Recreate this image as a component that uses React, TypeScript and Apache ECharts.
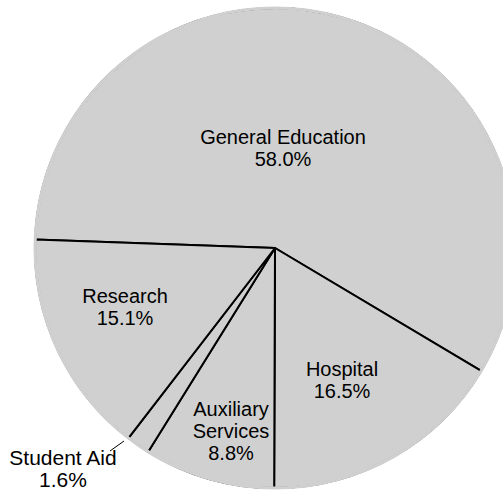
import React, { useEffect, useRef } from "react";
import * as echarts from "echarts";

const categories = ["General Education", "Hospital", "Auxiliary Services", "Student Aid", "Research"];
const displayNames = ["General Education", "Hospital", "Auxiliary\nServices", "Student Aid", "Research"];
const shares = [58.0, 16.5, 8.8, 1.6, 15.1];

// label centres (pixels) for each slice, in the same order
const labelPositions: number[][] = [
  [283, 148],
  [342, 380],
  [231, 431],
  [63, 468],
  [125, 307],
];
const studentAidLeader: number[][] = [
  [124, 441],
  [117, 446],
  [110, 451],
];

const CENTER = [275, 248];
const R = 240;
const FILL = "#d0d0d0";
const FONT = "'Liberation Sans', Arial, Helvetica, sans-serif";

export default function App() {
  const ref = useRef<HTMLDivElement>(null);
  useEffect(() => {
    if (!ref.current) return;
    const chart = echarts.init(ref.current, undefined, { renderer: "svg" });
    chart.setOption({
      animation: false,
      backgroundColor: "#ffffff",
      series: [
        {
          type: "pie",
          center: CENTER,
          radius: [0, R],
          startAngle: 178,
          clockwise: true,
          avoidLabelOverlap: false,
          silent: true,
          itemStyle: { color: FILL, borderColor: "#000", borderWidth: 2 },
          label: {
            show: true,
            position: "inside",
            color: "#000",
            fontFamily: FONT,
            fontSize: 20,
            lineHeight: 22,
            align: "center",
            formatter: (p: any) => `${displayNames[p.dataIndex]}\n${Number(p.value).toFixed(1)}%`,
          },
          labelLine: { show: false },
          labelLayout: (params: any) => {
            const pos = labelPositions[params.dataIndex];
            const out: any = { x: pos[0], y: pos[1], align: "center", verticalAlign: "middle" };
            if (params.dataIndex === 3) out.labelLinePoints = studentAidLeader;
            return out;
          },
          data: categories.map((name, i) => {
            const d: any = { name, value: shares[i] };
            if (i === 3) {
              d.label = { position: "outside", fontSize: 21 };
              d.labelLine = { show: true, length: 6, length2: 6, lineStyle: { color: "#000", width: 1 } };
            }
            return d;
          }),
        },
        {
          // covers the outer arc outline so only the radial dividers remain black
          type: "pie",
          center: CENTER,
          radius: [R - 1.5, R + 1.5],
          silent: true,
          label: { show: false },
          labelLine: { show: false },
          itemStyle: { color: FILL, borderWidth: 0 },
          data: [{ name: "edge", value: 1 }],
        },
      ],
    });
    return () => chart.dispose();
  }, []);
  return (
    <div
      ref={ref}
      style={{ position: "absolute", left: 0, top: 0, width: 503, height: 494, background: "#fff" }}
    />
  );
}
